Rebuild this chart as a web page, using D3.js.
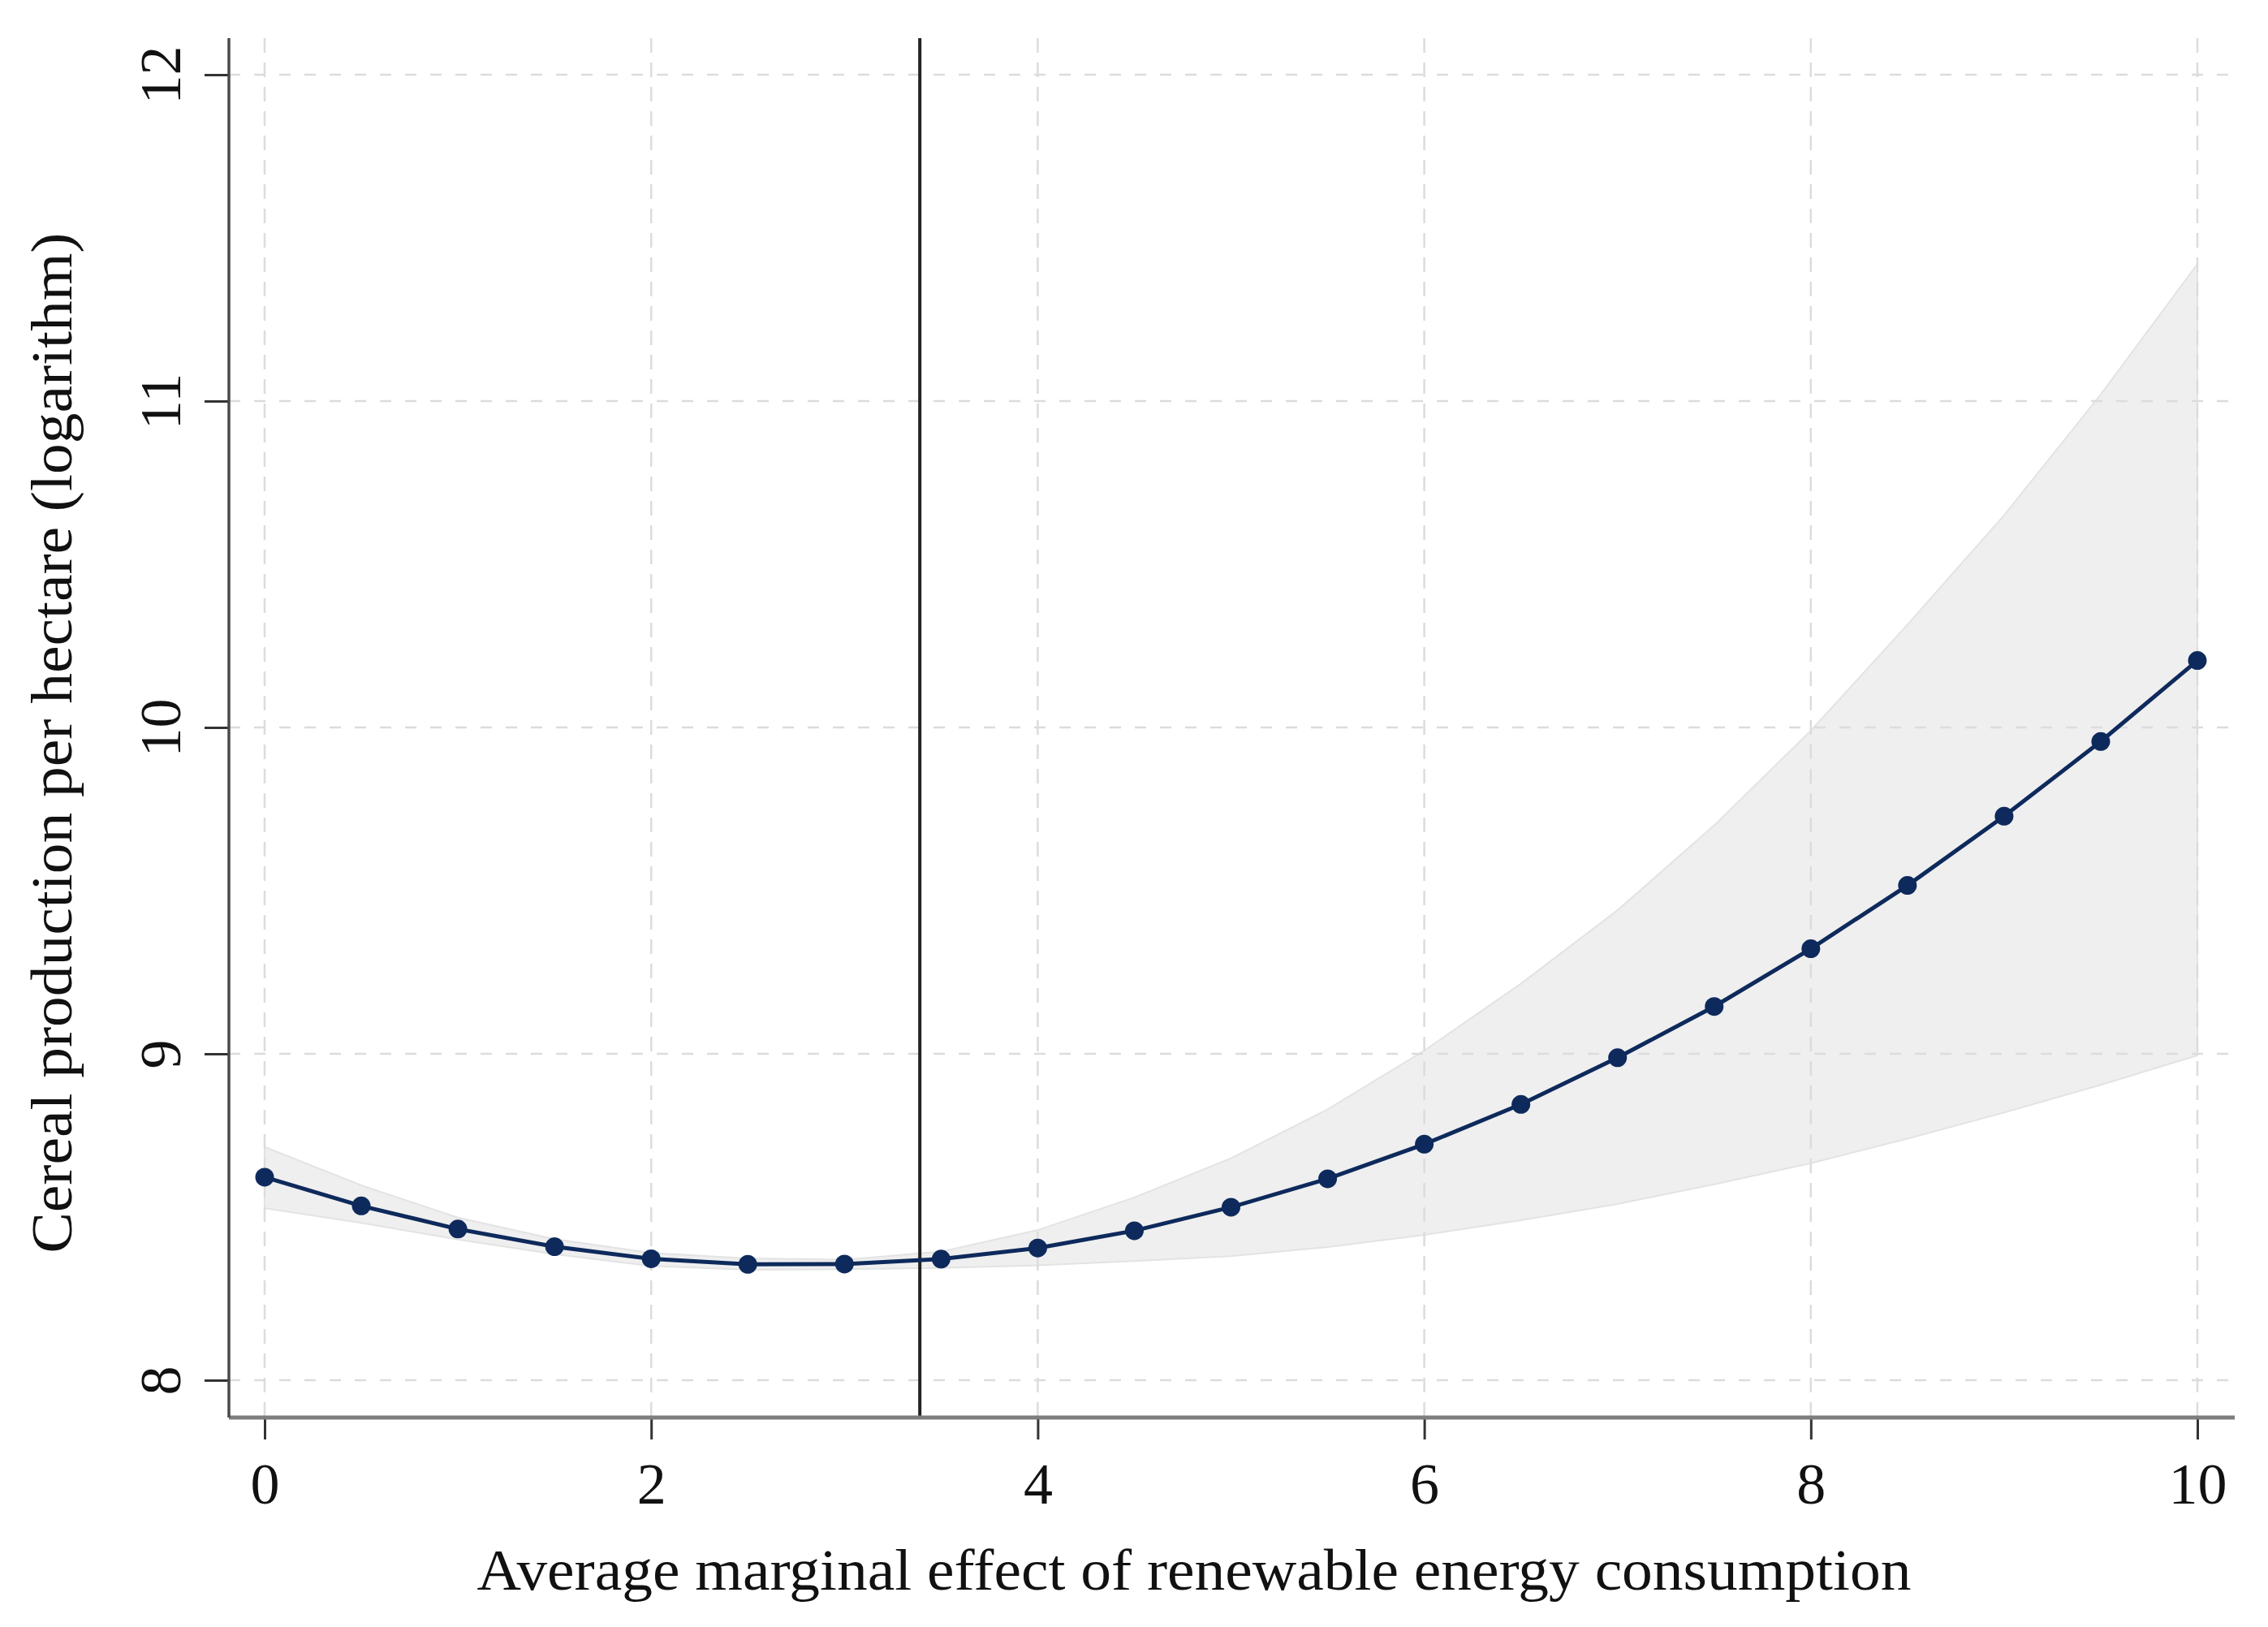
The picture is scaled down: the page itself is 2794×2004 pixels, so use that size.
<!DOCTYPE html>
<html>
<head>
<meta charset="utf-8">
<script src="https://cdn.jsdelivr.net/npm/d3@7"></script>
<style>
  body { margin: 0; background: #fff; }
  text { font-family: "Liberation Serif", "DejaVu Serif", serif; fill: #111; }
</style>
</head>
<body>
<div id="chart"></div>
<script>
// values
var xValues = [0, 0.5, 1, 1.5, 2, 2.5, 3, 3.5, 4, 4.5, 5, 5.5, 6, 6.5, 7, 7.5, 8, 8.5, 9, 9.5, 10];
var effect = [8.622, 8.534, 8.463, 8.409, 8.372, 8.355, 8.356, 8.371, 8.405, 8.458, 8.530, 8.617, 8.723, 8.845, 8.988, 9.145, 9.322, 9.516, 9.728, 9.957, 10.205];
var upper = [8.715, 8.597, 8.498, 8.432, 8.390, 8.373, 8.369, 8.394, 8.460, 8.560, 8.680, 8.830, 9.010, 9.215, 9.440, 9.700, 9.990, 10.315, 10.650, 11.020, 11.420];
var lower = [8.527, 8.482, 8.431, 8.386, 8.350, 8.338, 8.340, 8.344, 8.352, 8.365, 8.380, 8.408, 8.445, 8.490, 8.540, 8.600, 8.665, 8.740, 8.820, 8.905, 8.995];
var xTicks = [0, 2, 4, 6, 8, 10];
var yTicks = [8, 9, 10, 11, 12];
var threshold = 3.39;

var width = 2794, height = 2004;
var plot = { left: 282, right: 2753, top: 47, bottom: 1746 };

var svg = d3.select("#chart")
      .append("svg")
      .attr("width", width)
      .attr("height", height);

var xScale = d3.scaleLinear().domain([0, 10]).range([326, 2707]);
var yScale = d3.scaleLinear().domain([8, 12]).range([1700, 92]);

var rows = xValues.map(function (x, i) {
      return { x: x, y: effect[i], lo: lower[i], hi: upper[i] };
});

// confidence band
svg.append("path")
      .datum(rows)
      .attr("d", d3.area()
            .x(function (d) { return xScale(d.x); })
            .y0(function (d) { return yScale(d.lo); })
            .y1(function (d) { return yScale(d.hi); }))
      .attr("fill", "#efefef")
      .attr("stroke", "#e3e3e3")
      .attr("stroke-width", 2);

// dashed grid
svg.append("g")
      .selectAll("line")
      .data(yTicks)
      .enter()
      .append("line")
      .attr("x1", plot.left)
      .attr("x2", plot.right)
      .attr("y1", function (d) { return yScale(d); })
      .attr("y2", function (d) { return yScale(d); })
      .attr("stroke", "#dcdcdc")
      .attr("stroke-width", 2.5)
      .attr("stroke-dasharray", "14,17");

svg.append("g")
      .selectAll("line")
      .data(xTicks)
      .enter()
      .append("line")
      .attr("x1", function (d) { return xScale(d); })
      .attr("x2", function (d) { return xScale(d); })
      .attr("y1", plot.top)
      .attr("y2", plot.bottom)
      .attr("stroke", "#dcdcdc")
      .attr("stroke-width", 2.5)
      .attr("stroke-dasharray", "18,12");

// vertical reference line
svg.append("line")
      .attr("x1", xScale(threshold))
      .attr("x2", xScale(threshold))
      .attr("y1", plot.top)
      .attr("y2", plot.bottom)
      .attr("stroke", "#222")
      .attr("stroke-width", 4);

// line + markers
svg.append("path")
      .datum(rows)
      .attr("d", d3.line()
            .x(function (d) { return xScale(d.x); })
            .y(function (d) { return yScale(d.y); }))
      .attr("fill", "none")
      .attr("stroke", "#0e2a5c")
      .attr("stroke-width", 5);

svg.selectAll("circle")
      .data(rows)
      .enter()
      .append("circle")
      .attr("cx", function (d) { return xScale(d.x); })
      .attr("cy", function (d) { return yScale(d.y); })
      .attr("r", 11.5)
      .style("fill", "#0e2a5c");

// x axis
var xAxis = svg.append("g")
      .attr("transform", "translate(0," + plot.bottom + ")")
      .call(d3.axisBottom(xScale).tickValues(xTicks).tickSize(27).tickPadding(28).tickFormat(d3.format("d")));
xAxis.select(".domain").remove();
xAxis.selectAll(".tick line").attr("stroke", "#333").attr("stroke-width", 3);
xAxis.selectAll("text").attr("font-size", 72).attr("fill", "#111").attr("font-family", "Liberation Serif");
svg.append("line")
      .attr("x1", plot.left).attr("x2", plot.right)
      .attr("y1", plot.bottom).attr("y2", plot.bottom)
      .attr("stroke", "#7d7d7d")
      .attr("stroke-width", 5);

// y axis
var yAxis = svg.append("g")
      .attr("transform", "translate(" + plot.left + ",0)")
      .call(d3.axisLeft(yScale).tickValues(yTicks).tickSize(30).tickFormat(d3.format("d")));
yAxis.select(".domain").remove();
yAxis.selectAll(".tick line").attr("stroke", "#333").attr("stroke-width", 3);
yAxis.selectAll("text")
      .attr("font-size", 72)
      .attr("fill", "#111")
      .attr("font-family", "Liberation Serif")
      .attr("text-anchor", "middle")
      .attr("dy", null)
      .attr("x", null)
      .attr("transform", "translate(-60,0)rotate(-90)");
svg.append("line")
      .attr("x1", plot.left).attr("x2", plot.left)
      .attr("y1", plot.top).attr("y2", plot.bottom)
      .attr("stroke", "#4a4a4a")
      .attr("stroke-width", 3.5);

// titles
svg.append("text")
      .attr("x", 1471)
      .attr("y", 1958)
      .attr("text-anchor", "middle")
      .attr("font-size", 72)
      .attr("textLength", 1767)
      .attr("lengthAdjust", "spacingAndGlyphs")
      .text("Average marginal effect of renewable energy consumption");

svg.append("text")
      .attr("transform", "translate(88,915)rotate(-90)")
      .attr("text-anchor", "middle")
      .attr("font-size", 72)
      .attr("textLength", 1257)
      .attr("lengthAdjust", "spacingAndGlyphs")
      .text("Cereal production per hectare (logarithm)");
</script>
</body>
</html>
